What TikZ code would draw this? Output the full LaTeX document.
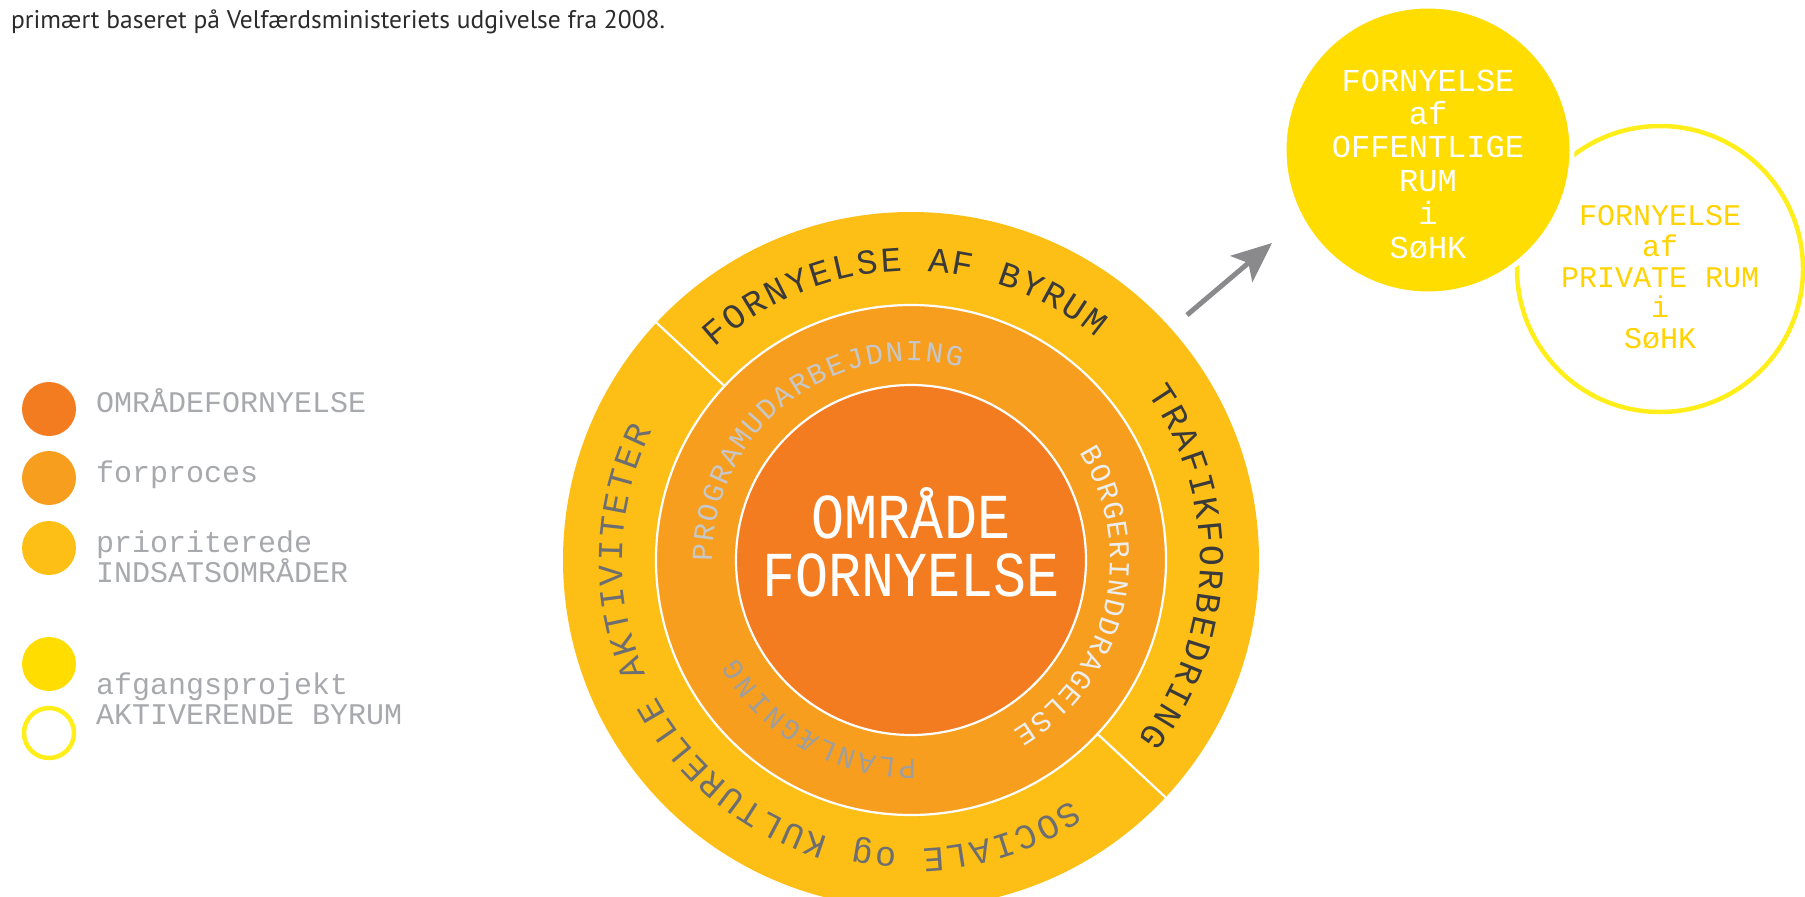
\documentclass[tikz,border=0pt]{standalone}
\usepackage{fontspec}
\setmainfont{Liberation Sans}
\newfontfamily\lmono{Liberation Mono}
\newfontfamily\lmonoN[FakeStretch=0.86]{Liberation Mono}
\newfontfamily\ptsans{PT Sans}
\usetikzlibrary{arrows.meta,calc}
\definecolor{cOrange}{HTML}{F37B20}
\definecolor{cMid}{HTML}{F89E1F}
\definecolor{cOuter}{HTML}{FDBF16}
\definecolor{cYel}{HTML}{FFDD00}
\definecolor{cYelLine}{HTML}{FFEE1A}
\definecolor{cYelText}{HTML}{FFD200}
\definecolor{cLegTxt}{HTML}{A7A9AC}
\definecolor{cDark}{HTML}{3A3A3A}
\definecolor{cGreyMid}{HTML}{6D6E71}
\definecolor{cLight}{HTML}{C5C7C9}
\definecolor{cLighter}{HTML}{ECEDED}
\definecolor{cPlan}{HTML}{9E9E9E}
\definecolor{cArrow}{HTML}{8A8A8C}
\definecolor{cBody}{HTML}{2B2B2B}
\tikzset{
  legdot/.style={circle, inner sep=0pt, minimum size=54pt},
  legtxt/.style={anchor=base west, inner sep=0pt, text=cLegTxt, font=\lmono\fontsize{30}{30}\selectfont},
  ringA/.style={inner sep=0pt, font=\lmono\fontsize{35}{35}\selectfont},
  ringB/.style={inner sep=0pt, font=\lmono\fontsize{29}{29}\selectfont},
  bigtxt/.style={anchor=base, inner sep=0pt, text=white, font=\lmonoN\fontsize{64}{64}\selectfont},
  ytxt/.style={anchor=base, inner sep=0pt, text=white, font=\lmono\fontsize{32}{32}\selectfont},
  otxt/.style={anchor=base, inner sep=0pt, text=cYelText, font=\lmono\fontsize{30}{30}\selectfont},
  sep/.style={white, line width=2.2pt}
}
% #1 name prefix, #2 start angle, #3 step, #4 radius, #5 style, #6 chars
\newcommand{\arcText}[6]{%
  \foreach \ch [count=\i from 0] in {#6} {%
    \pgfmathsetmacro{\ang}{#2-\i*#3}%
    \node[#5, anchor=base, rotate=\ang-90] (#1\i) at ($(C)+(\ang:#4)$) {\makebox[0pt]{\ch}};
  }%
}
\begin{document}
\begin{tikzpicture}[x=1pt,y=1pt]
\useasboundingbox (0,0) rectangle (1805,-897);
\clip (0,0) rectangle (1805,-897);

% top text
\node[anchor=base west, inner sep=0pt, text=cBody, font=\ptsans\fontsize{25.5}{25.5}\selectfont] (intro) at (11,-28) {primært baseret på Velfærdsministeriets udgivelse fra 2008.};

% legend
\node[legdot, fill=cOrange] (l1) at (49,-409) {};
\node[legdot, fill=cMid] (l2) at (49,-478) {};
\node[legdot, fill=cOuter] (l3) at (49,-548) {};
\node[legdot, fill=cYel] (l4) at (49,-664) {};
\node[circle, inner sep=0pt, minimum size=50pt, draw=cYelLine, line width=4.5pt] (l5) at (49,-733) {};
\node[legtxt] (lt1) at (96,-412) {OMRÅDEFORNYELSE};
\node[legtxt] (lt2) at (96,-482) {forproces};
\node[legtxt] (lt3a) at (96,-552) {prioriterede};
\node[legtxt] (lt3b) at (96,-582) {INDSATSOMRÅDER};
\node[legtxt] (lt4a) at (96,-694) {afgangsprojekt};
\node[legtxt] (lt4b) at (96,-724) {AKTIVERENDE BYRUM};

% main rings
\coordinate (C) at (911,-560);
\fill[cOuter] (C) circle (348);
\filldraw[fill=cMid, draw=white, line width=2.2pt] (C) circle (255);
\filldraw[fill=cOrange, draw=white, line width=2.2pt] (C) circle (175);
\draw[sep] ($(C)+(137:255)$) -- ($(C)+(137:349)$);
\draw[sep] ($(C)+(-43:255)$) -- ($(C)+(-43:349)$);

% outer ring texts
\arcText{fab}{130.6}{4.6}{289}{ringA, text=cDark}{F,O,R,N,Y,E,L,S,E, ,A,F, ,B,Y,R,U,M}
\arcText{tra}{33}{4.6}{289}{ringA, text=cDark}{T,R,A,F,I,K,F,O,R,B,E,D,R,I,N,G}
\arcText{soc}{-58.3}{4.57}{289}{ringA, text=cGreyMid}{S,O,C,I,A,L,E, ,o,g, ,K,U,L,T,U,R,E,L,L,E, ,A,K,T,I,V,I,T,E,T,E,R}
% middle ring texts
\arcText{pro}{178}{5.56}{199}{ringB, text=cLight}{P,R,O,G,R,A,M,U,D,A,R,B,E,J,D,N,I,N,G}
\arcText{bor}{30}{5.42}{199}{ringB, text=cLighter}{B,O,R,G,E,R,I,N,D,D,R,A,G,E,L,S,E}
\arcText{pla}{-91}{5.7}{199}{ringB, text=cPlan}{P,L,A,N,L,Æ,G,N,I,N,G}

% centre text
\node[bigtxt] (c1) at (911,-538) {OMRÅDE};
\node[bigtxt] (c2) at (911,-596) {FORNYELSE};

% yellow circles
\node[circle, inner sep=0pt, minimum size=286pt, draw=cYelLine, line width=4.5pt] (priv) at (1660,-269) {};
\node[circle, inner sep=0pt, minimum size=288pt, fill=cYel, draw=white, line width=5pt] (off) at (1428,-150) {};
\node[ytxt] (o1) at (1428,-91) {FORNYELSE};
\node[ytxt] (o2) at (1428,-124) {af};
\node[ytxt] (o3) at (1428,-157) {OFFENTLIGE};
\node[ytxt] (o4) at (1428,-191) {RUM};
\node[ytxt] (o5) at (1428,-224) {i};
\node[ytxt] (o6) at (1428,-258) {SøHK};
\node[otxt] (p1) at (1660,-225) {FORNYELSE};
\node[otxt] (p2) at (1660,-256) {af};
\node[otxt] (p3) at (1660,-287) {PRIVATE RUM};
\node[otxt] (p4) at (1660,-317) {i};
\node[otxt] (p5) at (1660,-348) {SøHK};

% arrow
\coordinate (aS) at (1187,-315);
\coordinate (aE) at (1272,-243);
\draw[cArrow, line width=5pt, -{Stealth[length=40pt, width=34pt, inset=9pt]}] (aS) -- (aE);
\end{tikzpicture}
\end{document}
